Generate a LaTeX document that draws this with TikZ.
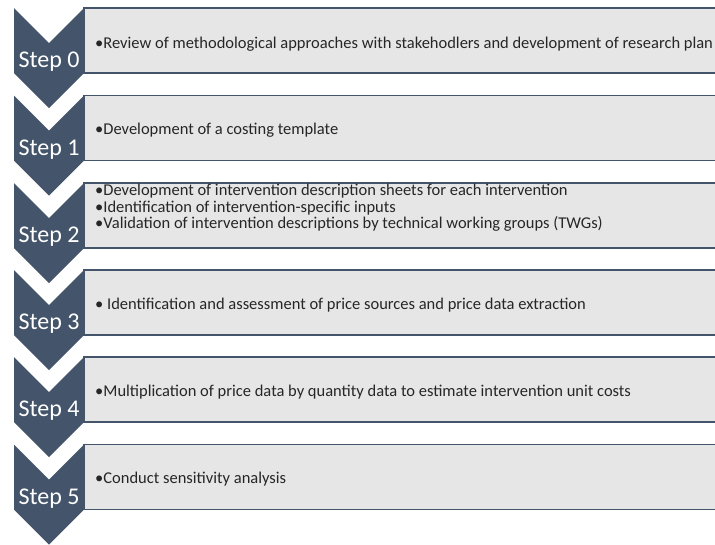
\documentclass[tikz,border=0pt]{standalone}
\usepackage{fontspec}
\setmainfont{Carlito}
\usepackage{xcolor}
\usetikzlibrary{positioning}
\definecolor{slate}{HTML}{44546A}
\definecolor{panel}{HTML}{E7E6E6}
\tikzset{
  steplabel/.style={text=white, font=\fontsize{24}{28}\selectfont, inner sep=0pt},
  desctext/.style={anchor=west, text=black!85, align=left, inner sep=0pt,
    font=\fontsize{16.5}{16.5}\selectfont},
  panelbox/.style={draw=slate, line width=1.3pt, fill=panel}
}
\begin{document}
\begin{tikzpicture}[x=1pt,y=-1pt]
\clip (0,0) rectangle (715,544);

% Chevrons and grey panels, one per step
\foreach \i/\t in {0/8, 1/95.5, 2/183, 3/270, 4/357, 5/444.5} {
    \fill[slate] (14,\t) -- (49,\t+35) -- (84,\t) -- (84,\t+65)
        -- (49,\t+100) -- (14,\t+65) -- cycle;
    \draw[panelbox] (84,\t) rectangle (725,\t+65);
    \node[steplabel] (step\i) at (49,\t+54) {Step \i};
}

% Step descriptions
\node[desctext] (desc0) at (95,44) {•Review of methodological approaches with stakehodlers and development of research plan};
\node[desctext] (desc1) at (95,130) {•Development of a costing template};
\node[desctext] (desc2) at (95,208) {•Development of intervention description sheets for each intervention\\
    •Identification of intervention-specific inputs\\
    •Validation of intervention descriptions by technical working groups (TWGs)};
\node[desctext] (desc3) at (95,305) {• Identification and assessment of price sources and price data extraction};
\node[desctext] (desc4) at (95,392) {•Multiplication of price data by quantity data to estimate intervention unit costs};
\node[desctext] (desc5) at (95,479) {•Conduct sensitivity analysis};

\end{tikzpicture}
\end{document}
